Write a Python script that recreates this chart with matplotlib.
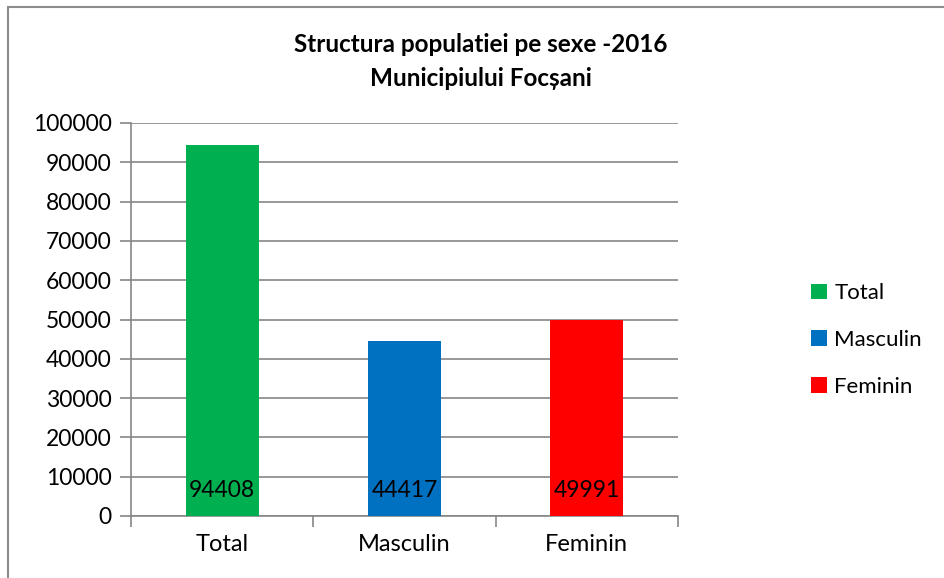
import matplotlib
matplotlib.use("Agg")
import matplotlib.pyplot as plt
from matplotlib.patches import Rectangle, Patch

# data
categories = ["Total", "Masculin", "Feminin"]
values = [94408, 44417, 49991]
bar_colors = ["#00B050", "#0070C0", "#FF0000"]
y_ticks = list(range(0, 100001, 10000))

plt.rcParams["font.family"] = ["Lato", "DejaVu Sans"]

fig = plt.figure(figsize=(9.44, 5.78), dpi=100)
ax = fig.add_axes([131 / 944, 1 - 516 / 578, (678 - 131) / 944, (516 - 123) / 578])

x = list(range(len(categories)))
bars = ax.bar(x, values, width=0.4, color=bar_colors, zorder=3)

# value labels sitting at the bottom of each bar
for xi, v in zip(x, values):
    ax.text(xi, 6500, str(v), ha="center", va="center", fontsize=16.5, color="black", zorder=4)

gray = "#868686"
ax.set_xlim(-0.5, 2.5)
ax.set_ylim(0, 100000)
ax.set_yticks(y_ticks)
ax.set_yticklabels([str(t) for t in y_ticks], fontsize=16.5)
ax.yaxis.grid(True, color=gray, linewidth=1.2, zorder=0)

# category labels centred, tick marks on category boundaries
ax.set_xticks(x)
ax.set_xticklabels(categories, fontsize=17)
ax.tick_params(axis="x", length=0, pad=13)
ax.set_xticks([-0.5, 0.5, 1.5, 2.5], minor=True)
ax.tick_params(axis="x", which="minor", length=8, color=gray, width=1.2)
ax.tick_params(axis="y", length=8, color=gray, width=1.2, pad=6)

for side in ["top", "right"]:
    ax.spines[side].set_visible(False)
for side in ["left", "bottom"]:
    ax.spines[side].set_color(gray)
    ax.spines[side].set_linewidth(1.2)

fig.text(481 / 944, 1 - 45 / 578, "Structura populatiei pe sexe -2016", ha="center", va="center",
         fontsize=17.5, fontweight="bold")
fig.text(481 / 944, 1 - 78 / 578, "Municipiului Focșani", ha="center", va="center",
         fontsize=17.5, fontweight="bold")

handles = [Patch(facecolor=c, edgecolor="none") for c in bar_colors]
fig.legend(handles, categories, loc="center left", bbox_to_anchor=(791 / 944, 1 - 340 / 578),
           frameon=False, fontsize=16, handlelength=0.7, handleheight=0.7,
           handletextpad=0.35, labelspacing=1.2)

# outer chart border (only left/top edges fall inside the image)
fig.patches.append(Rectangle((8 / 944, -0.1), 1.2, 1 - 7 / 578 + 0.1, transform=fig.transFigure,
                             fill=False, edgecolor="#8C8C8C", linewidth=1.5))

fig.savefig("out.png", dpi=100)
